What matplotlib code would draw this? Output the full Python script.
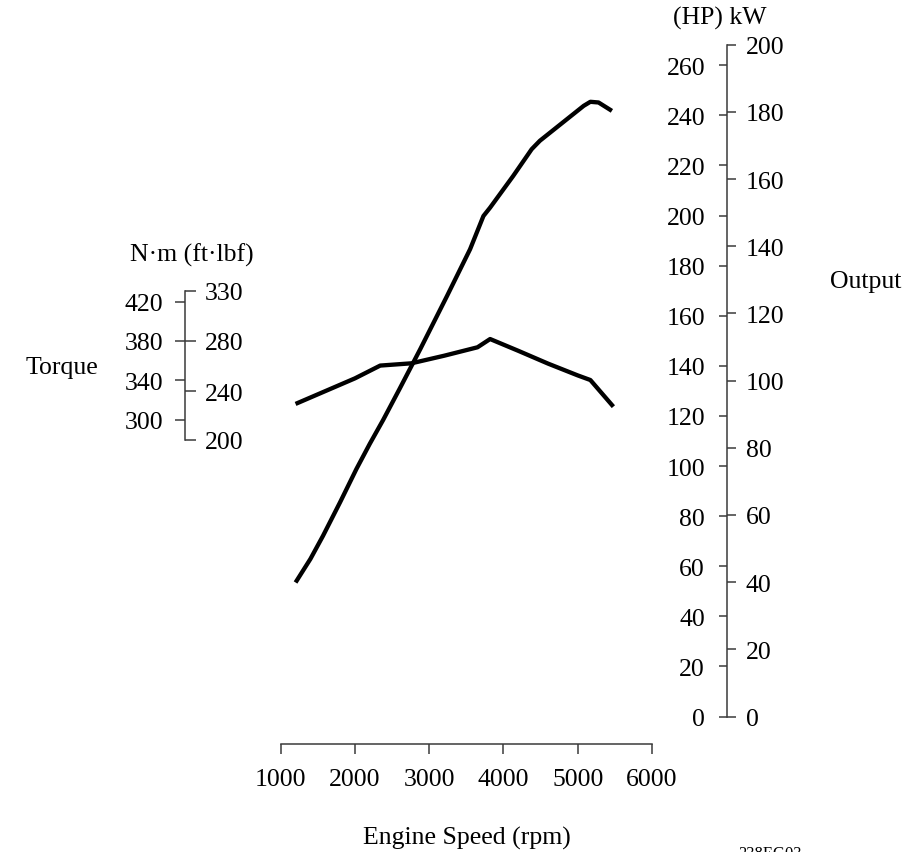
import numpy as np
import matplotlib
matplotlib.use("Agg")
import matplotlib.pyplot as plt

plt.rcParams['font.family'] = ['Liberation Serif', 'DejaVu Serif']
plt.rcParams['font.size'] = 18.5

# ---------------- data ----------------
rpm_power = [1200, 1400, 1570, 1800, 2020, 2200, 2380, 2600, 2880, 3240, 3550, 3730,
             3820, 4130, 4380, 4490, 5080, 5170, 5280, 5460]
power_kw = [39.9, 46.9, 53.8, 63.8, 73.7, 81.2, 88.3, 97.5, 109.4, 125.2, 139.1, 149.0,
            151.5, 160.9, 168.9, 171.4, 181.8, 183.0, 182.8, 180.3]

rpm_torque = [1200, 1600, 2000, 2340, 2760, 3200, 3650, 3820, 4200, 4600, 5000, 5170, 5480]
torque_nm = [316, 329, 342, 355, 357.3, 365, 373.6, 382, 370, 357, 345, 340.3, 313.2]

rpm_ticks = [1000, 2000, 3000, 4000, 5000, 6000]
kw_ticks = [0, 20, 40, 60, 80, 100, 120, 140, 160, 180, 200]
hp_ticks = [0, 20, 40, 60, 80, 100, 120, 140, 160, 180, 200, 220, 240, 260]
nm_ticks = [300, 340, 380, 420]
ftlbf_ticks = [200, 240, 280, 330]
# N·m value at which each ft·lbf tick is drawn on the reference scale
ftlbf_at_nm = [279.3, 329.1, 380.0, 430.9]

HP_PER_KW = 1 / 0.7457

W, H = 906, 853
fig = plt.figure(figsize=(W / 100, H / 100), dpi=100)

AX_COL = '#3a3a3a'
SP_LW = 1.1

# main axes: x = rpm, y = kW
left_px, right_px, top_px, bot_px = 280.7, 652.0, 45.7, 717.5
ax = fig.add_axes([left_px / W, 1 - bot_px / H, (right_px - left_px) / W, (bot_px - top_px) / H])
ax.set_xlim(1000, 6000)
ax.set_ylim(0, 200)
ax.patch.set_visible(False)

# torque axes (twin, created first so it does not disturb later tick placement)
axt = ax.twinx()

for s in ['top', 'left']:
    ax.spines[s].set_visible(False)

# x axis
ax.spines['bottom'].set_position(('outward', 19.8))
ax.spines['bottom'].set_bounds(1000, 6000)
ax.spines['bottom'].set_color(AX_COL)
ax.spines['bottom'].set_linewidth(SP_LW)
ax.set_xticks(rpm_ticks)
ax.tick_params(axis='x', direction='out', length=7.2, width=SP_LW, color=AX_COL, pad=10)

# kW axis (right)
out_pos = (727 - left_px) / (right_px - left_px)
ax.spines['right'].set_visible(True)
ax.spines['right'].set_position(('axes', out_pos))
ax.spines['right'].set_bounds(0, 200)
ax.spines['right'].set_color(AX_COL)
ax.spines['right'].set_linewidth(SP_LW)
ax.yaxis.tick_right()
ax.set_yticks(kw_ticks)
ax.tick_params(axis='y', which='both', left=False, labelleft=False, right=True, labelright=True,
               direction='out', length=6.5, width=SP_LW, color=AX_COL, pad=7)

# HP axis (left side of same line)
hp = ax.secondary_yaxis(out_pos, functions=(lambda k: np.asarray(k) * HP_PER_KW,
                                            lambda h: np.asarray(h) / HP_PER_KW))
hp.set_alignment('left')
for s in hp.spines.values():
    s.set_visible(False)
hp.set_yticks(hp_ticks)
hp.tick_params(axis='y', direction='out', length=5.8, width=SP_LW, color=AX_COL, pad=10)

# power curve
ax.plot(rpm_power, power_kw, color='black', lw=3.1, solid_capstyle='butt',
        solid_joinstyle='round', clip_on=False)

# torque axis
k_px = 0.983
lo = 380 - (bot_px - 342) / k_px
hi = lo + (bot_px - top_px) / k_px
axt.set_ylim(lo, hi)
axt.patch.set_visible(False)
for s in ['top', 'right', 'bottom']:
    axt.spines[s].set_visible(False)
tq_pos = (185 - left_px) / (right_px - left_px)
axt.spines['left'].set_visible(True)
axt.spines['left'].set_position(('axes', tq_pos))
axt.spines['left'].set_bounds(ftlbf_at_nm[0], ftlbf_at_nm[-1])
axt.spines['left'].set_color(AX_COL)
axt.spines['left'].set_linewidth(SP_LW)
axt.yaxis.set_ticks_position('left')
axt.yaxis.set_label_position('left')
axt.set_yticks(nm_ticks)
axt.tick_params(axis='y', left=True, labelleft=True, right=False, labelright=False,
                direction='out', length=7.2, width=SP_LW, color=AX_COL, pad=8.5)
axt.tick_params(axis='x', bottom=False, labelbottom=False)


def _interp_ext(v, xp, fp):
    v = np.asarray(v, dtype=float)
    xp = np.asarray(xp, dtype=float)
    fp = np.asarray(fp, dtype=float)
    out = np.interp(v, xp, fp)
    sl = (fp[1] - fp[0]) / (xp[1] - xp[0])
    sr = (fp[-1] - fp[-2]) / (xp[-1] - xp[-2])
    out = np.where(v < xp[0], fp[0] + (v - xp[0]) * sl, out)
    out = np.where(v > xp[-1], fp[-1] + (v - xp[-1]) * sr, out)
    return out


ft = axt.secondary_yaxis(tq_pos, functions=(lambda n: _interp_ext(n, ftlbf_at_nm, ftlbf_ticks),
                                            lambda f: _interp_ext(f, ftlbf_ticks, ftlbf_at_nm)))
ft.set_alignment('right')
for s in ft.spines.values():
    s.set_visible(False)
ft.set_yticks(ftlbf_ticks)
ft.tick_params(axis='y', direction='out', length=8.0, width=SP_LW, color=AX_COL, pad=6)

axt.plot(rpm_torque, torque_nm, color='black', lw=3.1, solid_capstyle='butt',
         solid_joinstyle='round', clip_on=False)


def ftext(x, y, s, **kw):
    fig.text(x / W, 1 - y / H, s, **kw)


ftext(192, 255, 'N·m (ft·lbf)', ha='center', va='center')
ftext(62, 368, 'Torque', ha='center', va='center')
ftext(720, 18, '(HP) kW', ha='center', va='center')
ftext(866, 282, 'Output', ha='center', va='center')
ftext(467, 838, 'Engine Speed (rpm)', ha='center', va='center')
ftext(770, 846, '238EG03', ha='center', va='top', fontsize=12)

fig.savefig('out.png', dpi=100)
